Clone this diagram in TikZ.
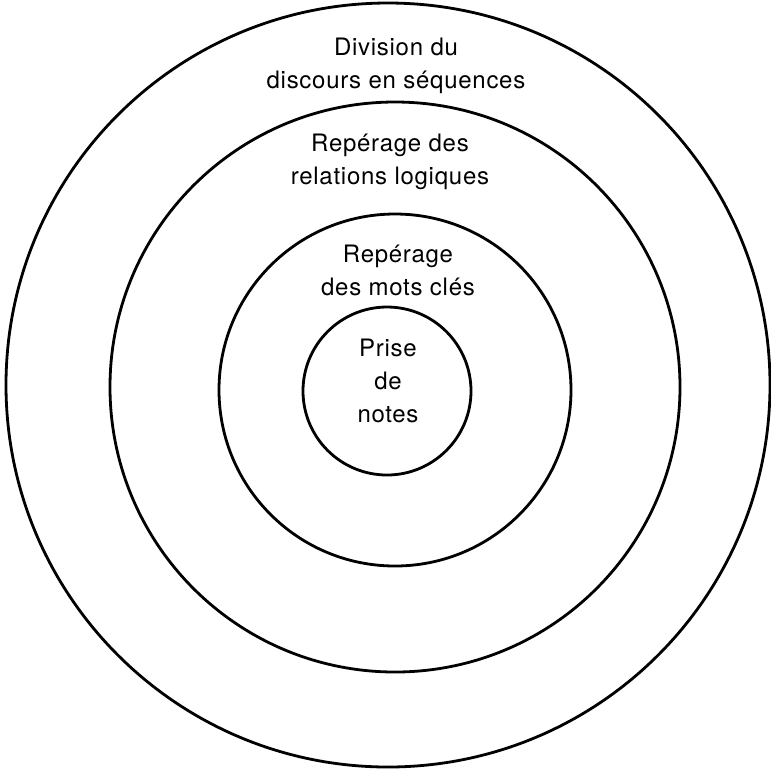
\documentclass[tikz,border=0pt]{standalone}
\usepackage{fontspec}
\setmainfont{TeX Gyre Heros}[LetterSpace=3]
\usetikzlibrary{positioning}

\begin{document}
\begin{tikzpicture}[
    x=0.5pt, y=-0.5pt,
    ring/.style={circle, draw=black, line width=1.4pt, inner sep=0pt},
    lbl/.style={font=\fontsize{12}{16.5}\selectfont, align=center, inner sep=0pt}
]
    \useasboundingbox (0,0) rectangle (771,768);

    % rings, outer to inner
    \node[ring, minimum size=382pt] (discours) at (388,385) {};
    \node[ring, minimum size=285pt] (relations) at (395,387) {};
    \node[ring, minimum size=176pt] (motscles) at (395,390) {};
    \node[ring, minimum size=84pt] (notes) at (387,391) {};

    % labels
    \node[lbl] (tdiscours) at (396,66) {Division du\\discours en séquences};
    \node[lbl] (trelations) at (390,162) {Repérage des\\relations logiques};
    \node[lbl] (tmotscles) at (398,270) {Repérage\\des mots clés};
    \node[lbl] (tnotes) at (388,381) {Prise\\de\\notes};

\end{tikzpicture}
\end{document}
